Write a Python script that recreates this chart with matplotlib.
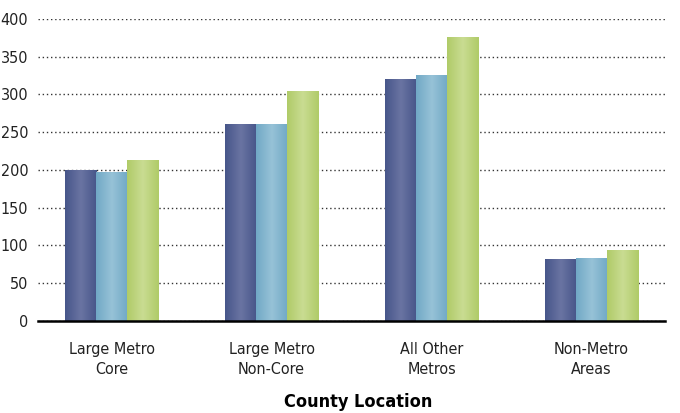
import numpy as np
import matplotlib.pyplot as plt
from matplotlib import font_manager
from matplotlib.colors import to_rgb

categories = ["Large Metro\nCore", "Large Metro\nNon-Core", "All Other\nMetros", "Non-Metro\nAreas"]
series_a = [200, 260, 320, 81]
series_b = [197, 260, 325, 83]
series_c = [213, 304, 375, 93]
y_ticks = [0, 50, 100, 150, 200, 250, 300, 350, 400]

# (edge colour, centre colour) for the shaded bars
palettes = [
    ("#47568a", "#6a74a2"),
    ("#71a9c6", "#97c2d7"),
    ("#b0cb68", "#c9dc92"),
]

names = {f.name for f in font_manager.fontManager.ttflist}
family = "Liberation Sans Narrow" if "Liberation Sans Narrow" in names else "DejaVu Sans"
plt.rcParams["font.family"] = [family, "DejaVu Sans"]
plt.rcParams["font.stretch"] = "condensed"

fig = plt.figure(figsize=(6.8, 4.13), dpi=100)
ax = fig.add_axes([0.056, 0.223, 0.922, 0.731])

x = np.arange(len(categories))
width = 0.195
offsets = [-width, 0, width]

grad = np.abs(np.linspace(-1, 1, 64))
for values, off, (edge, mid) in zip([series_a, series_b, series_c], offsets, palettes):
    bars = ax.bar(x + off, values, width, color=edge, zorder=3)
    c0 = np.array(to_rgb(edge))
    c1 = np.array(to_rgb(mid))
    img = (c1[None, :] * (1 - grad[:, None]) + c0[None, :] * grad[:, None])[None, :, :]
    for b in bars:
        x0, y0 = b.get_x(), b.get_y()
        ax.imshow(img, extent=[x0, x0 + b.get_width(), y0, y0 + b.get_height()],
                  aspect="auto", zorder=4, interpolation="bilinear")

ax.set_xlim(-0.46, 3.46)
ax.set_ylim(0, 400)
ax.set_yticks(y_ticks)
ax.set_xticks(x)
ax.set_xticklabels(categories, fontsize=11.5, color="#222222", linespacing=1.4)
ax.tick_params(axis="y", labelsize=11.5, labelcolor="#222222", length=0, pad=7)
ax.tick_params(axis="x", length=0, pad=15)

ax.yaxis.grid(True, linestyle=(0, (1, 2)), color="#333333", linewidth=1.0, zorder=1)
for s in ["top", "right", "left"]:
    ax.spines[s].set_visible(False)
ax.spines["bottom"].set_linewidth(1.8)
ax.spines["bottom"].set_zorder(5)

ax.set_xlabel("County Location", fontsize=13, fontweight="bold")
ax.xaxis.set_label_coords(0.51, -0.24)

fig.savefig("out.png", dpi=100)
